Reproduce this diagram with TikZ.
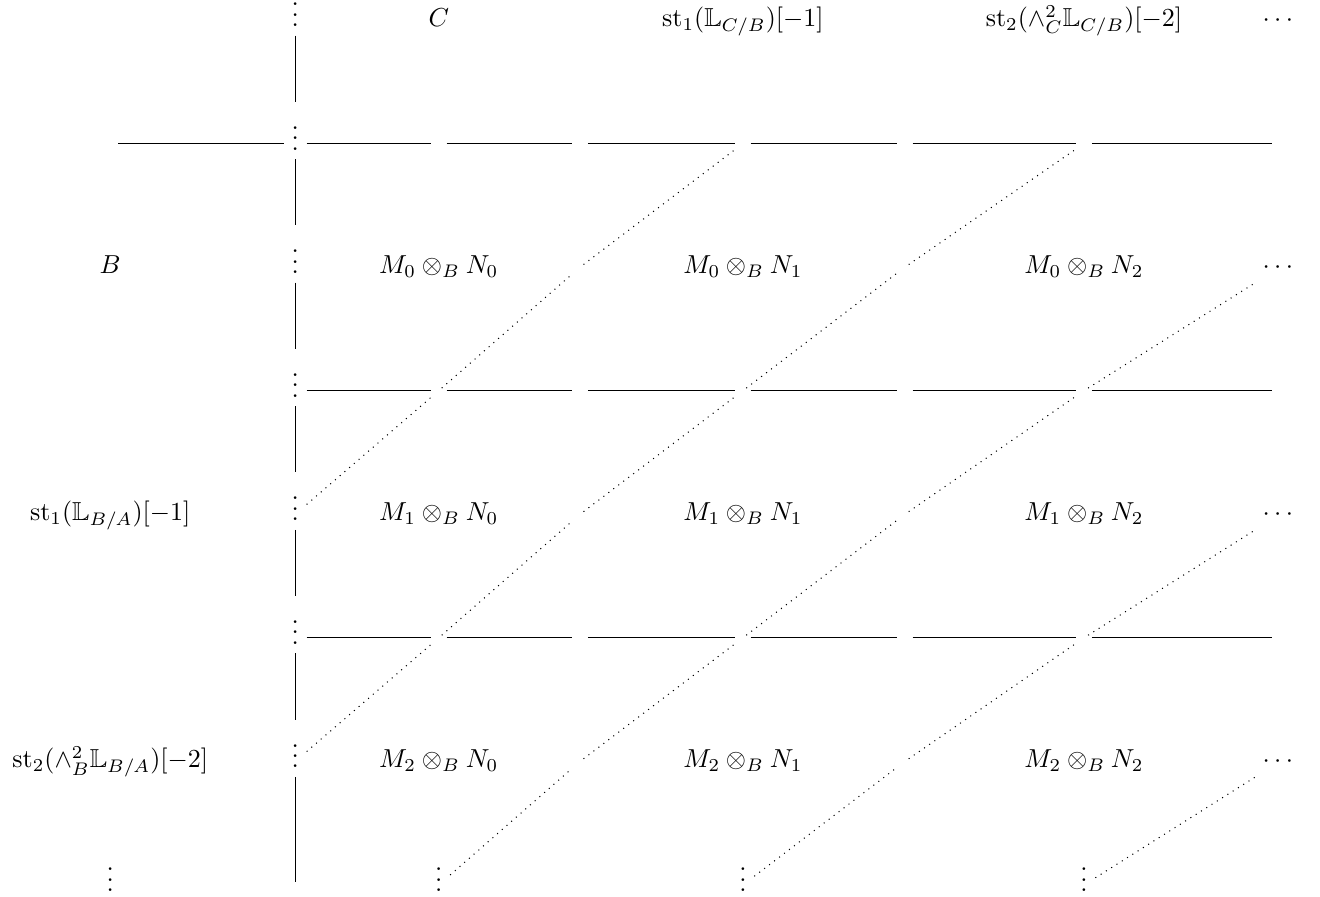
\documentclass[tikz,border=0pt]{standalone}
\usepackage{amsmath,amssymb}
\usepackage{tikz}
\usetikzlibrary{cd}
\tikzset{
    every picture/.style={line cap=butt},
    cell/.style={shape=asymmetrical rectangle,inner xsep=3pt,inner ysep=3.5pt,
      outer sep=0pt},
    rulel/.style={line width=0.4pt},
    diagl/.style={dotted,line width=0.4pt}
}

\begin{document}
\begin{tikzpicture}
  \useasboundingbox (-1.49,0.27) rectangle (16.35,-11.84);
  % grid of cell positions
  \foreach \c/\x in {1/0,2/2.50,3/4.44,4/6.35,5/8.55,6/10.74,7/13.16,8/15.81}
    \foreach \r in {1,...,8}
      \coordinate (p\r-\c) at (\x,{-1.67*(\r-1)});

  % top row
  \node[cell] (m1-2) at (p1-2) {$\vdots$};
  \node[cell] (m1-3) at (p1-3) {$C$};
  \node[cell] (m1-5) at (p1-5) {$\mathrm{st}_1(\mathbb{L}_{C/B})[-1]$};
  \node[cell] (m1-7) at (p1-7) {$\mathrm{st}_2(\wedge^2_C\mathbb{L}_{C/B})[-2]$};
  \node[cell] (m1-8) at (p1-8) {$\cdots$};

  % left labels
  \node[cell] (m3-1) at (p3-1) {$B$};
  \node[cell] (m5-1) at (p5-1) {$\mathrm{st}_1(\mathbb{L}_{B/A})[-1]$};
  \node[cell] (m7-1) at (p7-1) {$\mathrm{st}_2(\wedge^2_B\mathbb{L}_{B/A})[-2]$};

  % tensor products
  \foreach \i/\r in {0/3,1/5,2/7} {
    \foreach \j/\c in {0/3,1/5,2/7}
      \node[cell] (m\r-\c) at (p\r-\c) {$M_\i\otimes_B N_\j$};
    \node[cell] (m\r-2) at (p\r-2) {$\vdots$};
    \node[cell] (m\r-4) at (p\r-4) {};
    \node[cell] (m\r-6) at (p\r-6) {};
    \node[cell] (m\r-8) at (p\r-8) {$\cdots$};
  }

  % rows of rules
  \foreach \r in {2,4,6} {
    \node[cell] (m\r-2) at (p\r-2) {$\vdots$};
    \foreach \c in {3,...,8}
      \node[cell] (m\r-\c) at (p\r-\c) {};
  }
  \node[cell] (m2-1) at (p2-1) {};

  % bottom row
  \node[cell] (m8-2) at (p8-2) {};
  \foreach \c in {1,3,5,7}
    \node[cell] (m8-\c) at (p8-\c) {$\vdots$};

  % solid rules
  \draw[rulel] (m2-1) -- (m2-2);
  \foreach \r in {2,4,6} {
    \foreach \a/\b in {2/3,3/4,4/5,5/6,6/7,7/8}
      \draw[rulel] (m\r-\a) -- (m\r-\b);
  }
  \foreach \a/\b in {1/2,2/3,3/4,4/5,5/6,6/7,7/8}
    \draw[rulel] (m\a-2) -- (m\b-2);

  % dotted diagonals
  \foreach \r/\c/\s/\t in {5/2/4/3,4/3/3/4,3/4/2/5,
      7/2/6/3,6/3/5/4,5/4/4/5,4/5/3/6,3/6/2/7,
      8/3/7/4,7/4/6/5,6/5/5/6,5/6/4/7,4/7/3/8,
      8/5/7/6,7/6/6/7,6/7/5/8, 8/7/7/8}
    \draw[diagl] (m\r-\c) -- (m\s-\t);
\end{tikzpicture}
\end{document}
